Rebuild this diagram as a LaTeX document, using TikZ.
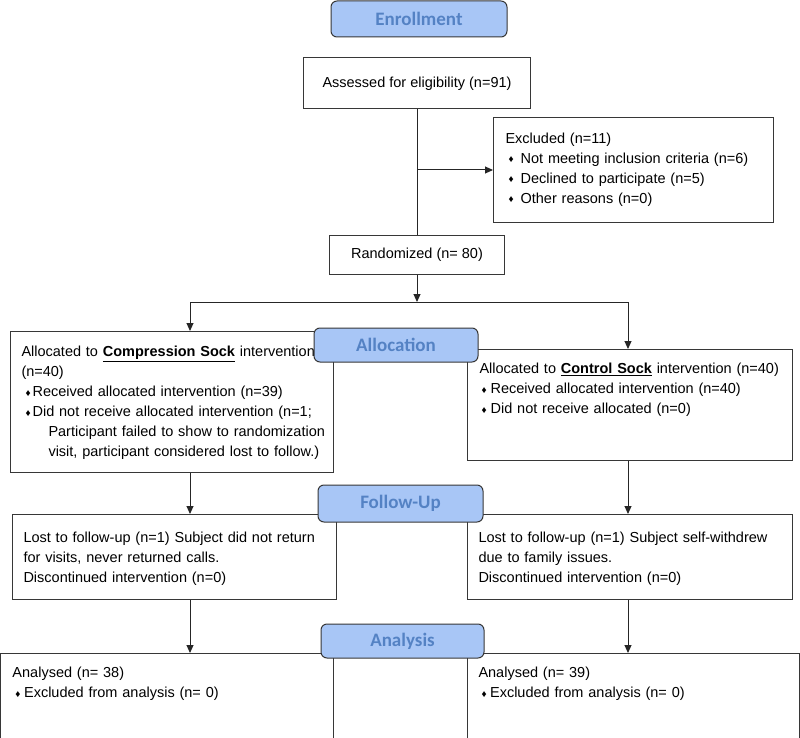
\documentclass[tikz,border=0pt]{standalone}
\usepackage{fontspec}
\setmainfont{Liberation Sans}
\newfontfamily\lblfont{Carlito}
\usetikzlibrary{arrows.meta}
\definecolor{lblfill}{RGB}{168,198,246}
\definecolor{lbltext}{RGB}{84,130,196}
\definecolor{boxline}{RGB}{55,55,55}
\newcommand{\bul}{\raisebox{0.5pt}{\fontsize{10}{10}\selectfont\char"2666}}

\begin{document}
\begin{tikzpicture}[x=1pt,y=-1pt,
  box/.style={draw=boxline, line width=1pt, anchor=north west, inner xsep=11pt, inner ysep=0pt, align=left, font=\fontsize{14.5}{20}\selectfont},
  plainbox/.style={draw=boxline, line width=1pt, inner sep=0pt, font=\fontsize{14.5}{20}\selectfont},
  stage/.style={draw=boxline, line width=1pt, rounded corners=6pt, fill=lblfill, text=lbltext, font=\lblfont\bfseries\fontsize{19}{19}\selectfont, minimum width=164pt, minimum height=35pt},
  conn/.style={draw=black!85, line width=1pt},
  arr/.style={conn, -{Triangle[length=8pt,width=7pt]}}]
\useasboundingbox (0,0) rectangle (800,738);

\node[plainbox, minimum width=227pt, minimum height=51pt] (assess) at (417,83.5) {Assessed for eligibility (n=91)};
\node[box, text width=256pt, text height=26pt, text depth=79pt, inner xsep=12pt] (excl) at (493,117)
  {Excluded (n=11)\\
   \hspace*{3pt}\bul\hspace{7pt}Not meeting inclusion criteria (n=6)\\
   \hspace*{3pt}\bul\hspace{7pt}Declined to participate (n=5)\\
   \hspace*{3pt}\bul\hspace{7pt}Other reasons (n=0)};
\node[plainbox, minimum width=175pt, minimum height=39pt] (rand) at (417,254.5) {Randomized (n= 80)};

\node[box, text width=301pt, text height=25pt, text depth=116pt] (alocL) at (10,331)
  {Allocated to \textbf{\underline{Compression Sock}} intervention\\
   (n=40)\\
   \hspace*{4pt}\bul\hspace{2pt}Received allocated intervention (n=39)\\
   \hspace*{4pt}\bul\hspace{2pt}Did not receive allocated intervention (n=1;\\
   \hspace*{27pt}\mbox{Participant failed to show to randomization}\\
   \hspace*{27pt}\mbox{visit, participant considered lost to follow.)}};
\node[box, text width=301pt, text height=24pt, text depth=87pt, inner xsep=12pt] (alocR) at (467,349)
  {Allocated to \textbf{\underline{Control Sock}} intervention (n=40)\\
   \hspace*{2pt}\bul\hspace{4pt}Received allocated intervention (n=40)\\
   \hspace*{2pt}\bul\hspace{4pt}Did not receive allocated (n=0)};

\node[box, text width=302pt, text height=28pt, text depth=57pt] (fuL) at (12,514)
  {Lost to follow-up (n=1) Subject did not return\\
   for visits, never returned calls.\\
   Discontinued intervention (n=0)};
\node[box, text width=303pt, text height=28pt, text depth=57pt] (fuR) at (467,514)
  {Lost to follow-up (n=1) Subject self-withdrew\\
   due to family issues.\\
   Discontinued intervention (n=0)};

\node[box, text width=309pt, text height=24pt, text depth=61pt, inner xsep=12pt] (anL) at (0,653)
  {Analysed (n= 38)\\
   \hspace*{3pt}\bul\hspace{3.5pt}Excluded from analysis (n= 0)};
\node[box, text width=310pt, text height=24pt, text depth=61pt] (anR) at (467,653)
  {Analysed (n= 39)\\
   \hspace*{3pt}\bul\hspace{3.5pt}Excluded from analysis (n= 0)};

\coordinate (split) at (417,302);
\coordinate (bl) at (190,302);
\coordinate (br) at (628,302);

\draw[conn] (assess) -- (rand);
\draw[arr] (assess.south |- excl.west) -- (excl.west);
\draw[arr] (rand) -- (split);
\draw[conn] (bl) -- (br);
\draw[arr] (bl) -- (bl |- alocL.north);
\draw[arr] (br) -- (br |- alocR.north);
\draw[arr] (bl |- alocL.south) -- (bl |- fuL.north);
\draw[arr] (br |- alocR.south) -- (br |- fuR.north);
\draw[arr] (bl |- fuL.south) -- (bl |- anL.north);
\draw[arr] (br |- fuR.south) -- (br |- anR.north);

\node[stage, minimum width=176pt, minimum height=36pt] (enroll) at (419,19) {Enrollment};
\node[stage, minimum height=34pt] (alloc) at (396,345) {Allocation};
\node[stage, minimum width=165pt, minimum height=37pt] (follow) at (400.5,503.5) {Follow-Up};
\node[stage, minimum width=163pt, minimum height=34pt] (analys) at (402.5,641) {Analysis};
\end{tikzpicture}
\end{document}
